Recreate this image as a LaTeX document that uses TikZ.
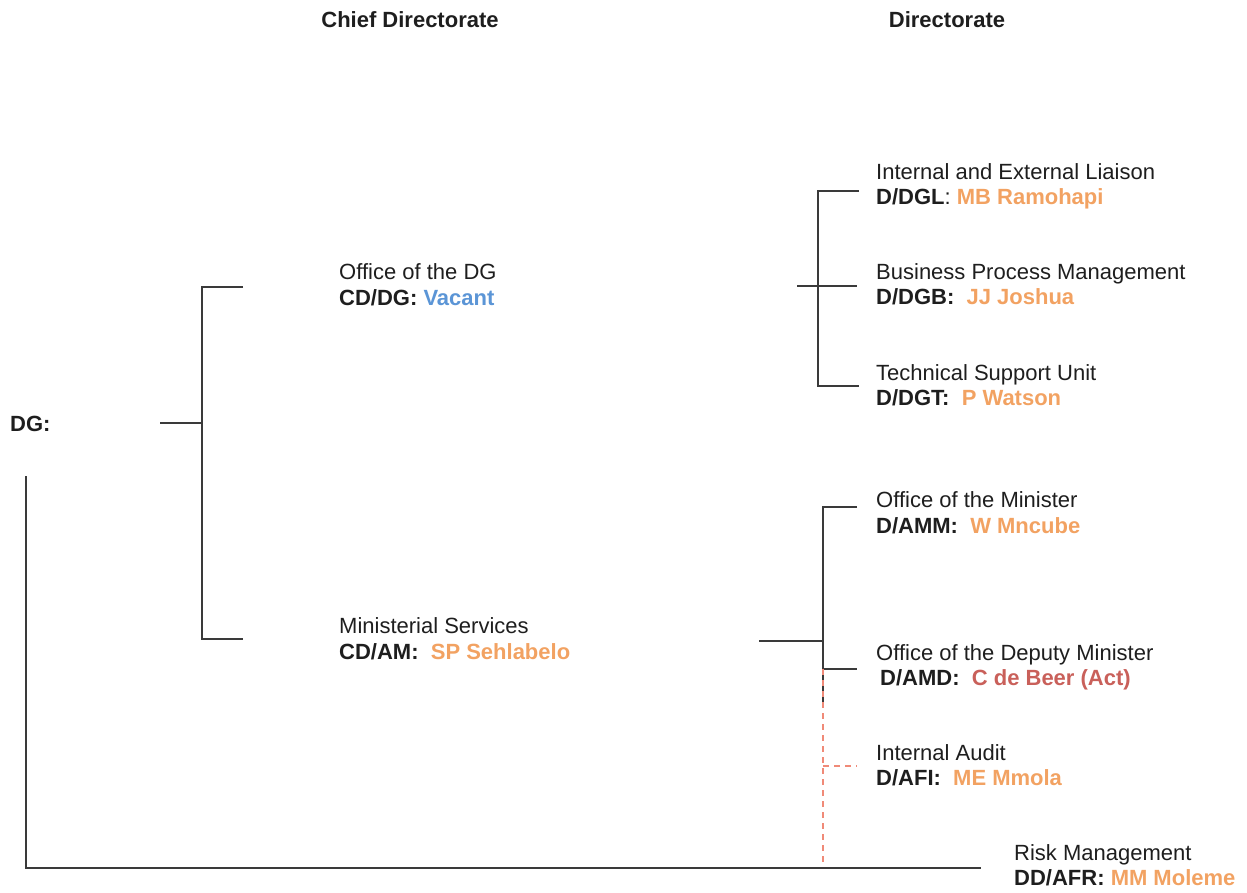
\documentclass[tikz,border=0pt]{standalone}
\usepackage{fontspec}
\setmainfont{Liberation Sans}

\definecolor{ink}{HTML}{1E1E1E}
\definecolor{rule}{HTML}{3A3A3A}
\definecolor{holder}{HTML}{F2A262}
\definecolor{vacant}{HTML}{5B95D6}
\definecolor{acting}{HTML}{C9605A}
\definecolor{audit}{HTML}{F08A78}

\newcommand{\who}[2]{\textcolor{#1}{\textbf{#2}}}

\tikzset{
  unit/.style={anchor=north west, inner sep=0pt, align=left, text=ink,
               font=\fontsize{22}{25.5}\selectfont},
  head/.style={anchor=base, inner sep=0pt, text=ink,
               font=\fontsize{22}{25.5}\selectfont\bfseries},
  link/.style={draw=rule, line width=1.8pt},
  audit link/.style={draw=audit, line width=2pt, dash pattern=on 6pt off 5pt},
}

\begin{document}
\begin{tikzpicture}[x=1pt, y=-1pt]
  \useasboundingbox (0,0) rectangle (1247,892);

  % column headings
  \node[head] (hcd) at (410,27.5) {Chief Directorate};
  \node[head] (hd)  at (947,27.5) {Directorate};

  % Director-General
  \node[anchor=base west, inner sep=0pt, text=ink,
        font=\fontsize{22}{25.5}\selectfont\bfseries] (dg) at (10,431.5) {DG:};

  % chief directorates
  \node[unit] (odg) at (339,261.8) {\strut Office of the DG\\ \textbf{CD/DG:} \who{vacant}{Vacant}};
  \node[unit] (ms)  at (339,615.8) {\strut Ministerial Services\\ \textbf{CD/AM:}\ \ \who{holder}{SP Sehlabelo}};

  % directorates under the Office of the DG
  \node[unit] (dgl) at (876,161.3) {\strut Internal and External Liaison\\ \textbf{D/DGL}: \who{holder}{MB Ramohapi}};
  \node[unit] (dgb) at (876,261.3) {\strut Business Process Management\\ \textbf{D/DGB:}\ \ \who{holder}{JJ Joshua}};
  \node[unit] (dgt) at (876,362.3) {\strut Technical Support Unit\\ \textbf{D/DGT:}\ \ \who{holder}{P Watson}};

  % directorates under Ministerial Services
  \node[unit] (amm) at (876,489.8) {\strut Office of the Minister\\ \textbf{D/AMM:}\ \ \who{holder}{W Mncube}};
  \node[unit] (amd) at (876,642.3) {\strut Office of the Deputy Minister\\ \hspace{4pt}\textbf{D/AMD:}\ \ \who{acting}{C de Beer (Act)}};
  \node[unit] (afi) at (876,742.3) {\strut Internal Audit\\ \textbf{D/AFI:}\ \ \who{holder}{ME Mmola}};
  \node[unit] (afr) at (1014,842.3) {\strut Risk Management\\ \textbf{DD/AFR:} \who{holder}{MM Moleme}};

  % bracket joints
  \coordinate (dgIn)   at (160,423);
  \coordinate (dgBar)  at (202,423);
  \coordinate (cdTop)  at (202,287);
  \coordinate (cdBot)  at (202,639);
  \coordinate (odgEnd) at (243,287);
  \coordinate (msEnd)  at (243,639);

  \coordinate (topIn)  at (797,286);
  \coordinate (topOut) at (857,286);
  \coordinate (topA)   at (818,191);
  \coordinate (topB)   at (818,386);
  \coordinate (dglEnd) at (859,191);
  \coordinate (dgtEnd) at (859,386);

  \coordinate (msIn)   at (759,641);
  \coordinate (msBar)  at (823,641);
  \coordinate (ammBar) at (823,507);
  \coordinate (ammEnd) at (857,507);
  \coordinate (amdBar) at (823,669);
  \coordinate (amdEnd) at (857,669);
  \coordinate (solidEnd) at (823,706);
  \coordinate (afiBar) at (823,766);
  \coordinate (afiEnd) at (857,766);
  \coordinate (auditFoot) at (823,868);

  \coordinate (dgDown) at (26,476);
  \coordinate (dgFoot) at (26,868);
  \coordinate (riskEnd) at (981,868);

  % DG to chief directorates
  \draw[link] (dgIn) -- (dgBar);
  \draw[link] (odgEnd) -- (cdTop) -- (cdBot) -- (msEnd);

  % Office of the DG directorates
  \draw[link] (topIn) -- (topOut);
  \draw[link] (dglEnd) -- (topA) -- (topB) -- (dgtEnd);

  % Ministerial Services directorates
  \draw[link] (msIn) -- (msBar);
  \draw[link] (ammEnd) -- (ammBar) -- (solidEnd);
  \draw[link] (amdBar) -- (amdEnd);
  \draw[audit link] (amdBar) -- (auditFoot);
  \draw[audit link] (afiBar) -- (afiEnd);

  % DG to Risk Management
  \draw[link] (dgDown) -- (dgFoot) -- (riskEnd);
\end{tikzpicture}
\end{document}
